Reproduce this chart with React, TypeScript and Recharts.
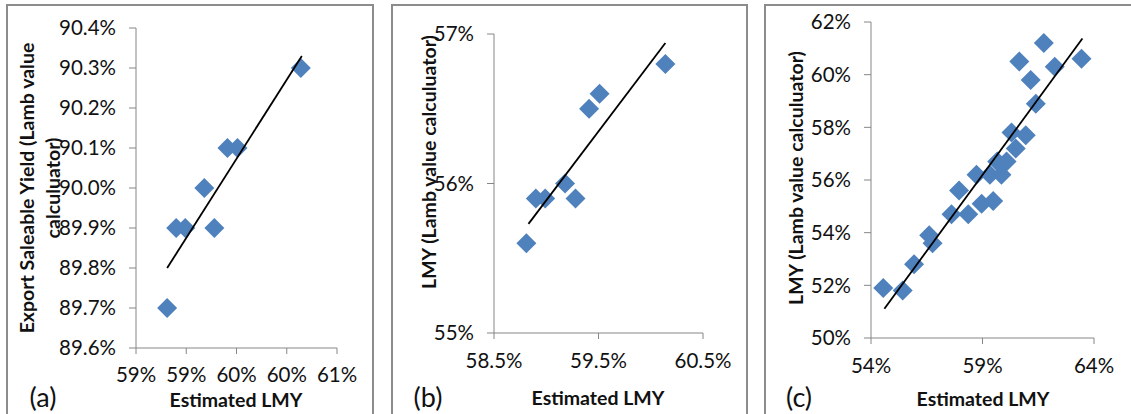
import React from 'react';
import { ScatterChart, Scatter, XAxis, YAxis } from 'recharts';

// shared x values (estimated LMY, %) for panels (a) and (b)
const estLmyAB = [58.81, 58.9, 58.99, 59.18, 59.28, 59.41, 59.51, 60.14];
const exportYieldA = [89.7, 89.9, 89.9, 90.0, 89.9, 90.1, 90.1, 90.3];
const lmyB = [55.6, 55.9, 55.9, 56.0, 55.9, 56.5, 56.6, 56.8];

const estLmyC = [
    54.55, 55.42, 55.93, 56.61, 56.76, 57.61, 57.95, 58.36, 58.73, 58.96, 59.33, 59.48,
    59.66, 59.85, 60.08, 60.3, 60.49, 60.94, 61.39, 60.65, 61.16, 61.75, 62.24, 63.44,
];
const lmyC = [
    51.9, 51.8, 52.8, 53.9, 53.6, 54.7, 55.6, 54.7, 56.2, 55.1, 56.2, 55.2,
    56.7, 56.2, 56.7, 57.8, 57.2, 57.7, 58.9, 60.5, 59.8, 61.2, 60.3, 60.6,
];

// trend line end points
const trendAX = [58.81, 60.15];
const trendAY = [89.8, 90.33];
const trendBX = [58.83, 60.14];
const trendBY = [55.73, 56.94];
const trendCX = [54.6, 63.48];
const trendCY = [51.11, 61.37];

const xTicksA = [58.5, 59, 59.5, 60, 60.5];
const yTicksA = [89.6, 89.7, 89.8, 89.9, 90.0, 90.1, 90.2, 90.3, 90.4];
const xTicksB = [58.5, 59.5, 60.5];
const yTicksB = [55, 56, 57];
const xTicksC = [54, 59, 64];
const yTicksC = [50, 52, 54, 56, 58, 60, 62];

const toPoints = (xs: number[], ys: number[]) => xs.map((x, i) => ({ x, y: ys[i] }));

const BLUE = '#4F81BD';
const AXIS = '#868686';
const FONT = 'Lato, "Open Sans", sans-serif';

const Diamond = (props: any) => {
    const { cx, cy } = props;
    const r = 10;
    return <path d={`M${cx},${cy - r}L${cx + r},${cy}L${cx},${cy + r}L${cx - r},${cy}Z`} fill={BLUE} />;
};

const NoDot = () => <g />;

const tickStyle = { fill: '#111', fontSize: 20.5, fontFamily: FONT };

interface PanelProps {
    left: number;
    width: number;
    margin: { top: number; right: number; bottom: number; left: number };
    yAxisWidth: number;
    xDomain: [number, number];
    yDomain: [number, number];
    xTicks: number[];
    yTicks: number[];
    xFmt: (v: number) => string;
    yFmt: (v: number) => string;
    points: { x: number; y: number }[];
    trend: { x: number; y: number }[];
    tickMarginX: number;
}

function Panel(p: PanelProps) {
    return (
        <div style={{ position: 'absolute', left: p.left, top: 0 }}>
            <ScatterChart width={p.width} height={414} margin={p.margin}>
                <XAxis
                    type="number"
                    dataKey="x"
                    domain={p.xDomain}
                    ticks={p.xTicks}
                    interval={0}
                    tickFormatter={p.xFmt}
                    stroke={AXIS}
                    tickSize={6}
                    tickMargin={p.tickMarginX}
                    tick={tickStyle}
                    height={40}
                    allowDataOverflow
                />
                <YAxis
                    type="number"
                    dataKey="y"
                    domain={p.yDomain}
                    ticks={p.yTicks}
                    interval={0}
                    tickFormatter={p.yFmt}
                    stroke={AXIS}
                    tickSize={7}
                    tickMargin={13}
                    tick={tickStyle}
                    width={p.yAxisWidth}
                    allowDataOverflow
                />
                <Scatter data={p.points} shape={Diamond} isAnimationActive={false} />
                <Scatter
                    data={p.trend}
                    shape={NoDot}
                    line={{ stroke: '#000', strokeWidth: 1.8 }}
                    lineType="joint"
                    isAnimationActive={false}
                />
            </ScatterChart>
        </div>
    );
}

function Txt({ x, y, size = 19.5, bold = false, rotate = false, lineHeight, children }: any) {
    return (
        <div
            style={{
                position: 'absolute',
                left: x,
                top: y,
                transform: `translate(-50%, -50%)${rotate ? ' rotate(-90deg)' : ''}`,
                fontFamily: FONT,
                fontSize: size,
                fontWeight: bold ? 700 : 400,
                whiteSpace: 'nowrap',
                textAlign: 'center',
                lineHeight: lineHeight ? `${lineHeight}px` : 'normal',
                color: '#111',
            }}
        >
            {children}
        </div>
    );
}

const pct1 = (v: number) => `${v.toFixed(1)}%`;
const pct0 = (v: number) => `${Math.round(v)}%`;

export default function App() {
    const border = '2px solid #8c8c8c';
    return (
        <div
            style={{
                position: 'absolute',
                left: 0,
                top: 0,
                width: 1131,
                height: 414,
                overflow: 'hidden',
                background: '#fff',
            }}
        >
            <div style={{ position: 'absolute', left: 6, top: 4, width: 364, height: 430, border }} />
            <div style={{ position: 'absolute', left: 391, top: 4, width: 353, height: 430, border }} />
            <div style={{ position: 'absolute', left: 764, top: 4, width: 420, height: 430, border }} />

            <Panel
                left={0}
                width={372}
                margin={{ top: 28, right: 35, bottom: 26, left: 0 }}
                yAxisWidth={136}
                xDomain={[58.5, 60.5]}
                yDomain={[89.6, 90.4]}
                xTicks={xTicksA}
                yTicks={yTicksA}
                xFmt={pct0}
                yFmt={pct1}
                points={toPoints(estLmyAB, exportYieldA)}
                trend={toPoints(trendAX, trendAY)}
                tickMarginX={13}
            />
            <Panel
                left={392}
                width={354}
                margin={{ top: 34, right: 43, bottom: 41, left: 0 }}
                yAxisWidth={102}
                xDomain={[58.5, 60.5]}
                yDomain={[55, 57]}
                xTicks={xTicksB}
                yTicks={yTicksB}
                xFmt={pct1}
                yFmt={pct0}
                points={toPoints(estLmyAB, lmyB)}
                trend={toPoints(trendBX, trendBY)}
                tickMarginX={14}
            />
            <Panel
                left={765}
                width={366}
                margin={{ top: 22, right: 37, bottom: 36, left: 0 }}
                yAxisWidth={106}
                xDomain={[54, 64]}
                yDomain={[50, 62]}
                xTicks={xTicksC}
                yTicks={yTicksC}
                xFmt={pct0}
                yFmt={pct0}
                points={toPoints(estLmyC, lmyC)}
                trend={toPoints(trendCX, trendCY)}
                tickMarginX={14}
            />

            <Txt x={40} y={188} bold rotate lineHeight={26}>
                Export Saleable Yield (Lamb value
                <br />
                calculuator)
            </Txt>
            <Txt x={428} y={162} bold rotate>LMY (Lamb value calculuator)</Txt>
            <Txt x={795} y={178} bold rotate>LMY (Lamb value calculuator)</Txt>

            <Txt x={236} y={399} bold>Estimated LMY</Txt>
            <Txt x={598} y={397} bold>Estimated LMY</Txt>
            <Txt x={983} y={398} bold>Estimated LMY</Txt>

            <Txt x={43} y={396} size={27}>(a)</Txt>
            <Txt x={428} y={396} size={27}>(b)</Txt>
            <Txt x={799} y={396} size={27}>(c)</Txt>
        </div>
    );
}
